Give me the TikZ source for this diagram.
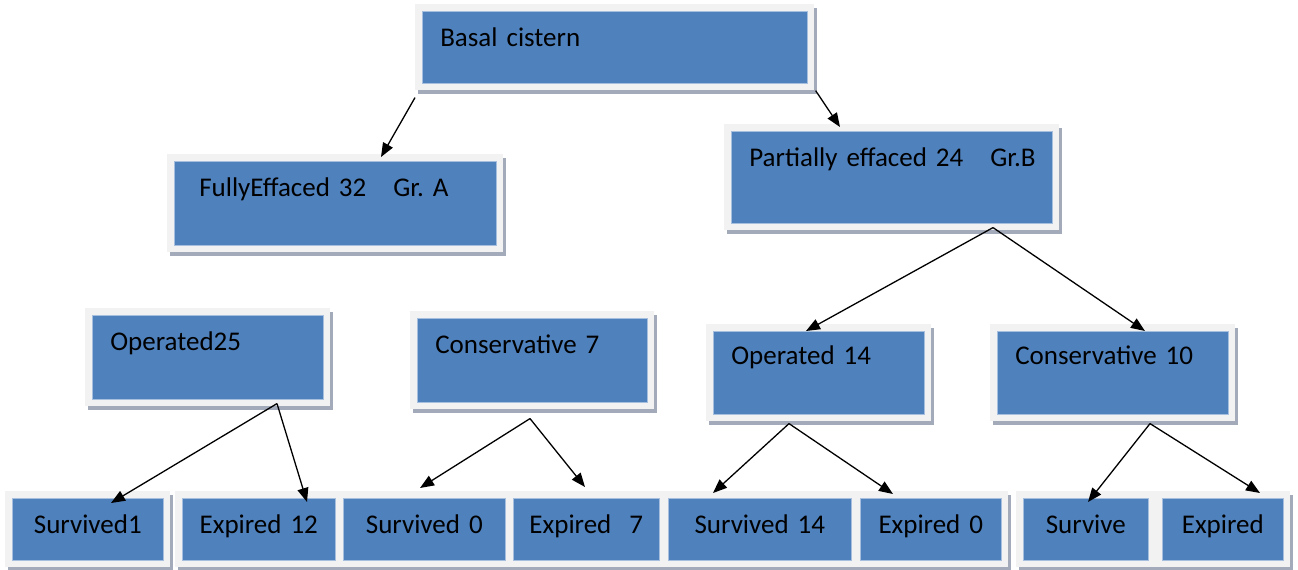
\documentclass[tikz,border=0pt]{standalone}
\usepackage{fontspec}
\setmainfont{Carlito}
\usetikzlibrary{arrows.meta,calc,shadows}
\frenchspacing

\definecolor{cellblue}{HTML}{4F81BD}
\definecolor{celledge}{HTML}{A7BFDE}
\definecolor{cellframe}{HTML}{F2F2F2}
\definecolor{cellshade}{HTML}{A3ABBB}

\tikzset{
  cell/.style={fill=cellblue, draw=celledge, line width=0.6pt,
    drop shadow={shadow xshift=3pt, shadow yshift=-4pt, opacity=1,
      fill=cellshade, draw=cellshade, line width=14pt},
    preaction={draw=cellframe, line width=14pt},
    anchor=north west, inner ysep=0pt, inner xsep=18pt,
    text height=35pt, align=left,
    font=\fontsize{27}{32}\selectfont},
  leaf/.style={cell, inner xsep=0pt, align=center, text depth=27pt},
  link/.style={line width=1.3pt, -{Triangle[length=14pt, width=11pt]}}
}

\begin{document}
\begin{tikzpicture}[x = 1pt, y = -1pt]
\useasboundingbox (0, 0) rectangle (1298, 570);

% the upper levels
\node[cell, text width=349pt, text depth=37pt] (basal) at (422, 11) {Basal cistern};
\node[cell, inner xsep=25pt, text width=272pt, text depth=49pt] (fully) at (174, 161)
  {\rlap{FullyEffaced 32~~~Gr. A}};
\node[cell, text width=285pt, text depth=57pt] (partial) at (731, 131)
  {\rlap{Partially effaced 24~~~Gr.B}};
\node[cell, text width=195pt, text depth=49pt] (op25) at (92, 315) {Operated25};
\node[cell, text width=194pt, text depth=49pt] (cons7) at (417, 318) {Conservative 7};
\node[cell, text width=175pt, text height=33pt, text depth=50pt] (op14) at (713, 331)
  {Operated 14};
\node[cell, text width=195pt, text height=33pt, text depth=50pt] (cons10) at (997, 331)
  {Conservative 10};

% the outcomes
\foreach \id/\x/\w/\txt in {surv1/12/151/Survived1, exp12/182/153/Expired 12,
    surv0/343/162/Survived 0, exp7/513/146/Expired~~7, surv14/668/183/Survived 14,
    exp0/860/141/Expired 0, survive/1023/125/Survive, expired/1162/121/Expired}
  \node[leaf, text width=\w pt] (\id) at (\x, 498) {\txt};

% the arrows
\draw[link] ($(basal.south west)+(-7, 14)$) -- ($(fully.north west)+(207, -4)$);
\draw[link] ($(basal.south east)+(8, 7)$) -- ($(partial.north west)+(109, -4)$);
\draw[link] ($(partial.south west)+(262, 4)$) -- ($(op14.north west)+(93, 0)$);
\draw[link] ($(partial.south west)+(262, 4)$) -- ($(cons10.north west)+(148, 0)$);
\draw[link] ($(op25.south west)+(185, 4)$) -- ($(surv1.north west)+(99, 5)$);
\draw[link] ($(op25.south west)+(185, 4)$) -- ($(exp12.north west)+(125, 4)$);
\draw[link] ($(cons7.south west)+(113, 16)$) -- ($(surv0.north west)+(77, -10)$);
\draw[link] ($(cons7.south west)+(113, 16)$) -- ($(exp7.north west)+(72, -11)$);
\draw[link] ($(op14.south west)+(76, 9)$) -- ($(surv14.north west)+(45, -5)$);
\draw[link] ($(op14.south west)+(76, 9)$) -- ($(exp0.north west)+(33, -4)$);
\draw[link] ($(cons10.south west)+(153, 9)$) -- ($(survive.north west)+(65, 4)$);
\draw[link] ($(cons10.south west)+(153, 9)$) -- ($(expired.north west)+(98, -5)$);

\end{tikzpicture}
\end{document}
